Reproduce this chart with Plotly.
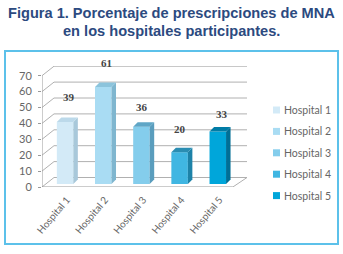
import plotly.graph_objects as go

categories = ["Hospital 1", "Hospital 2", "Hospital 3", "Hospital 4", "Hospital 5"]
values = [39, 61, 36, 20, 33]
y_ticks = [0, 10, 20, 30, 40, 50, 60, 70]
title_lines = ["Figura 1. Porcentaje de prescripciones de MNA", "en los hospitales participantes."]

front_colors = ["#d3eaf7", "#a9dcf3", "#84cdec", "#40b6e2", "#00a6da"]
side_colors = ["#a8c8da", "#7fb6cf", "#5a9dbd", "#1d82a8", "#006f96"]
top_colors = ["#bcd9ea", "#8cc4dc", "#5fa6c6", "#2a8db2", "#007ca6"]
label_dx = [4, 3, 1, 0, 4]
label_gap = [20, 20, 15, 19, 13]

L, R, T, B = 42, 247, 66, 187
X0, X1 = -0.5, 4.87
Y0, Y1 = 0, (B - T) / 1.59
px_x = (R - L) / (X1 - X0)
px_y = (B - T) / (Y1 - Y0)
deep_x, deep_y = 12 / px_x, 9.5 / px_y
bar_w = 16.5 / px_x
bar_shift = 4 / px_x
base = 3 / px_y
side_x, side_y = 4.5 / px_x, 4.5 / px_y
grey = "#b0b0b0"


def paper_x(px):
    return (px - L) / (R - L)


def paper_y(py):
    return (B - py) / (B - T)


def line(x0, y0, x1, y1, color=grey):
    return dict(type="line", x0=x0, y0=y0, x1=x1, y1=y1, xref="x", yref="y",
                line=dict(color=color, width=1), layer="below")


shapes = []
for t in y_ticks:
    shapes.append(line(X0, t, X0 + deep_x, t + deep_y))
    shapes.append(line(X0 + deep_x, t + deep_y, X1, t + deep_y))
shapes.append(line(X0, 0, X0, 70, "#999999"))
shapes.append(line(X0, 0, 4.5, 0, "#999999"))
shapes.append(line(4.5, 0, X1, deep_y))
for i in range(6):
    tx = i - 0.5
    shapes.append(line(tx, 0, tx, -4 / px_y, "#999999"))

shapes.insert(0, dict(type="rect", xref="paper", yref="paper",
                      x0=paper_x(5), x1=paper_x(338), y0=paper_y(244), y1=paper_y(51),
                      line=dict(color="#5cc1ea", width=2), fillcolor="rgba(0,0,0,0)", layer="below"))

fig = go.Figure()
centers = [i + bar_shift for i in range(len(categories))]
for i, (cat, v) in enumerate(zip(categories, values)):
    fig.add_trace(go.Bar(x=[centers[i]], y=[v], base=[base], width=[bar_w], name=cat,
                         marker=dict(color=front_colors[i], line=dict(width=0)),
                         showlegend=False, hoverinfo="skip"))
for i, v in enumerate(values):
    xr = centers[i] + bar_w / 2
    xl = centers[i] - bar_w / 2
    top = base + v
    fig.add_trace(go.Scatter(x=[xr, xr + side_x, xr + side_x, xr, xr],
                             y=[base, base + side_y, top + side_y, top, base],
                             mode="lines", line=dict(width=0), fill="toself",
                             fillcolor=side_colors[i], showlegend=False, hoverinfo="skip"))
    fig.add_trace(go.Scatter(x=[xl, xl + side_x, xr + side_x, xr, xl],
                             y=[top, top + side_y, top + side_y, top, top],
                             mode="lines", line=dict(width=0), fill="toself",
                             fillcolor=top_colors[i], showlegend=False, hoverinfo="skip"))

annotations = []
for i, v in enumerate(values):
    annotations.append(dict(x=centers[i], y=base + v + side_y, text=f"<b>{v}</b>", showarrow=False,
                            xref="x", yref="y", xshift=label_dx[i], yshift=label_gap[i],
                            font=dict(family="Liberation Serif", size=11, color="#444444")))

for i, cat in enumerate(categories):
    cy = 110 + 21.4 * i
    shapes.append(dict(type="rect", xref="paper", yref="paper",
                       x0=paper_x(273), x1=paper_x(280), y0=paper_y(cy + 3.5), y1=paper_y(cy - 3.5),
                       line=dict(width=0), fillcolor=front_colors[i]))
    annotations.append(dict(x=paper_x(281.5), y=paper_y(cy), xref="paper", yref="paper", text=cat,
                            xanchor="left", yanchor="middle", showarrow=False,
                            font=dict(family="Lato", size=10.5, color="#666666")))

for text, cy in zip(title_lines, [12.5, 31]):
    annotations.append(dict(x=paper_x(171), y=paper_y(cy), xref="paper", yref="paper",
                            text=f"<b>{text}</b>", xanchor="center", yanchor="middle", showarrow=False,
                            font=dict(family="Liberation Sans", size=14.6, color="#2c4a80")))

fig.update_layout(
    width=343, height=254, margin=dict(l=L, r=343 - R, t=T, b=254 - B, autoexpand=False),
    paper_bgcolor="#ffffff", plot_bgcolor="rgba(0,0,0,0)", barmode="overlay", showlegend=False,
    xaxis=dict(range=[X0, X1], tickvals=[i + 0.15 for i in range(5)], ticktext=categories, tickangle=-50,
               showgrid=False, zeroline=False, showline=False, ticks="", ticklabelstandoff=4,
               tickfont=dict(family="Lato", size=10, color="#666666")),
    yaxis=dict(range=[Y0, Y1], tickvals=y_ticks, showgrid=False, zeroline=False, showline=False,
               ticks="outside", ticklen=3, tickcolor="#999999", ticklabelstandoff=4,
               tickfont=dict(family="Lato", size=11, color="#666666")),
    shapes=shapes, annotations=annotations,
)
fig.write_html("out.html", config={"displayModeBar": False},
               post_script="document.body.style.margin='0';document.body.style.overflow='hidden';")
